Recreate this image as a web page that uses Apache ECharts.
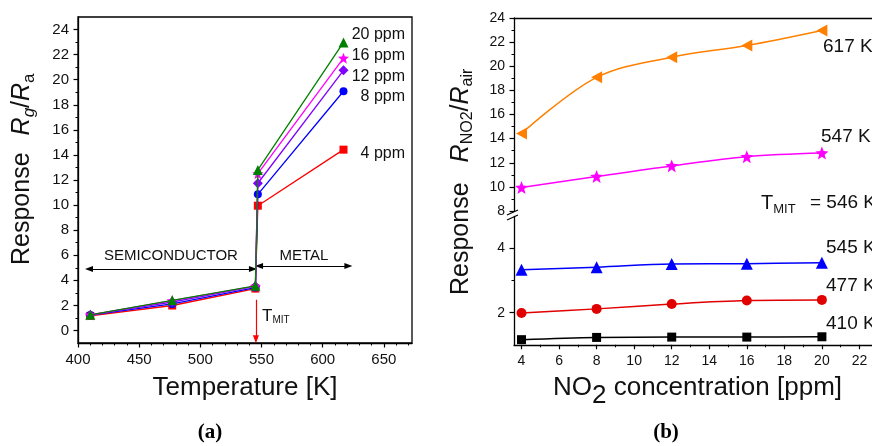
<!DOCTYPE html>
<html><head><meta charset="utf-8">
<script src="https://cdn.jsdelivr.net/npm/echarts@6/dist/echarts.min.js"></script>
<style>html,body{margin:0;padding:0;background:#fff}#c{width:872px;height:446px}</style>
</head><body><div id="c"></div>
<script>
// ---------- data ----------
const concentrations = [4, 8, 12, 16, 20];          // ppm (panel b x)
const temperatures   = [410, 477, 545, 547, 617];   // K   (panel a x)
const resp410 = [1.16, 1.23, 1.24, 1.24, 1.25];
const resp477 = [1.99, 2.12, 2.27, 2.38, 2.40];
const resp545 = [3.34, 3.42, 3.52, 3.53, 3.56];
const resp547 = [9.95, 10.86, 11.74, 12.50, 12.80];
const resp617 = [14.42, 19.08, 20.75, 21.72, 22.97];
const ppmLabels  = ['4 ppm', '8 ppm', '12 ppm', '16 ppm', '20 ppm'];
const tempLabels = ['410 K', '477 K', '545 K', '547 K', '617 K'];
const xTicksA = [400, 450, 500, 550, 600, 650];
const yTicksA = [0, 2, 4, 6, 8, 10, 12, 14, 16, 18, 20, 22, 24];
const xTicksB = [4, 6, 8, 10, 12, 14, 16, 18, 20, 22];
const yTicksBUpper = [8, 10, 12, 14, 16, 18, 20, 22, 24];
const yTicksBLower = [2, 4];

// ---------- helpers ----------
const FF = '"Liberation Sans", Arial, Helvetica, sans-serif';
const SERIF = '"Liberation Serif", "DejaVu Serif", serif';
const mctx = document.createElement('canvas').getContext('2d');
function tw(t, size, o) { o = o || {}; mctx.font = (o.it ? 'italic ' : '') + (o.b ? 'bold ' : '') + size + 'px ' + (o.fam || FF); return mctx.measureText(t).width; }
function minorOf(min, max, step, majors) {
  const out = [];
  for (let v = min; v <= max + 1e-9; v += step) { const r = Math.round(v * 1000) / 1000; if (!majors.includes(r)) out.push(r); }
  return out;
}
function txt(x, y, t, size, o) {
  o = o || {};
  return { type: 'text', x: x, y: y, rotation: o.rot || 0, scaleY: o.sy || 1, silent: true, z: 100,
    style: { text: t, fontSize: size, fontFamily: o.fam || FF, fontStyle: o.it ? 'italic' : 'normal',
      fontWeight: o.b ? 'bold' : 'normal', fill: o.color || '#111', textAlign: o.align || 'left', textVerticalAlign: 'middle' } };
}
function runH(pieces, x, y) {
  const els = [];
  pieces.forEach(p => { els.push(txt(x, y + (p.dy || 0), p.t, p.s, p)); x += tw(p.t, p.s, p) + (p.gap || 0); });
  return els;
}
function runV(pieces, x, y) {
  const els = [];
  pieces.forEach(p => { els.push(txt(x + (p.dy || 0), y, p.t, p.s, Object.assign({ rot: Math.PI / 2 }, p))); y -= tw(p.t, p.s, p) + (p.gap || 0); });
  return els;
}
function mainAxis(gridIndex, min, max, ticks, fs, position, margin) {
  return { type: 'value', gridIndex, min, max, position,
    axisLine: { show: true, onZero: false, lineStyle: { color: '#000', width: 1.3 } },
    axisTick: { show: ticks.length > 0, inside: false, length: 4.5, customValues: ticks, lineStyle: { color: '#000', width: 1.2 } },
    axisLabel: { show: ticks.length > 0, customValues: ticks, color: '#111', fontSize: fs, fontFamily: FF, margin: margin },
    splitLine: { show: false }, minorTick: { show: false }, minorSplitLine: { show: false } };
}
function minorAxis(gridIndex, min, max, ticks, position) {
  return { type: 'value', gridIndex, min, max, position,
    axisLine: { show: false, onZero: false },
    axisTick: { show: true, inside: false, length: 2.5, customValues: ticks, lineStyle: { color: '#000', width: 1 } },
    axisLabel: { show: false }, splitLine: { show: false } };
}
const STAR = 'path://M50,0L62.3,31.2L97.55,34.55L70,56.5L79.39,90.45L50,71L20.61,90.45L30,56.5L2.45,34.55L37.7,31.2Z';

// ---------- panel a series ----------
const byTemp = [resp410, resp477, resp545, resp547, resp617];
const colorsA = ['#ff0000', '#0000ff', '#8000ff', '#ff00ff', '#008000'];
const symA = ['rect', 'circle', 'diamond', STAR, 'triangle'];
const sizeA = [8, 8, 10, 11, 10];
const seriesA = ppmLabels.map((name, i) => ({
  type: 'line', name, xAxisIndex: 0, yAxisIndex: 0,
  data: temperatures.map((t, j) => [t, byTemp[j][i]]),
  symbol: symA[i], symbolSize: sizeA[i], showSymbol: true,
  lineStyle: { color: colorsA[i], width: 1.3 }, itemStyle: { color: colorsA[i] },
  z: 2 + i, animation: false, emphasis: { disabled: true }
}));
seriesA[0].markLine = {
  silent: true, animation: false, symbol: ['triangle', 'triangle'], symbolSize: [6, 8],
  label: { show: false }, emphasis: { disabled: true },
  lineStyle: { color: '#000', width: 1.2, type: 'solid' },
  data: [
    [{ coord: [409, 4.9] }, { coord: [543, 4.9] }],
    [{ coord: [548, 5.15] }, { coord: [621, 5.15] }],
    [{ coord: [545.4, 2.45], symbol: 'none', lineStyle: { color: '#ff0000', width: 1.2, type: 'solid' } }, { coord: [545.4, -0.7], symbol: 'triangle' }]
  ]
};

// ---------- panel b series ----------
const colorsB = ['#000000', '#e00000', '#0000ff', '#ff00ff', '#ff8000'];
const symB = ['rect', 'circle', 'triangle', STAR, 'triangle'];
const rotB = [0, 0, 0, 0, 90];
const sizeB = [9, 10, 12, 13, [12, 11]];
const seriesB = tempLabels.map((name, k) => {
  const upper = k >= 3;
  return {
    type: 'line', name, xAxisIndex: upper ? 2 : 3, yAxisIndex: upper ? 2 : 4,
    data: concentrations.map((c, i) => [c, byTemp[k][i]]),
    symbol: symB[k], symbolSize: sizeB[k], symbolRotate: rotB[k], smooth: 0.35,
    lineStyle: { color: colorsB[k], width: 1.5 }, itemStyle: { color: colorsB[k] },
    z: 3, animation: false, emphasis: { disabled: true }
  };
});

// ---------- text / decoration ----------
const graphics = [];
// panel a labels
const ppmY = [154, 97, 77, 56, 35];
ppmLabels.forEach((l, i) => graphics.push(txt(405, ppmY[i], l, 16, { align: 'right' })));
graphics.push(txt(171, 256, 'SEMICONDUCTOR', 15, { align: 'center' }));
graphics.push(txt(304, 256, 'METAL', 15, { align: 'center' }));
graphics.push(...runH([{ t: 'T', s: 17 }, { t: 'MIT', s: 10, dy: 4 }], 262, 316));
graphics.push(txt(245, 388, 'Temperature [K]', 26, { align: 'center' }));
graphics.push(...runV([{ t: 'Response', s: 25, gap: 17 }, { t: 'R', s: 25, it: true }, { t: 'g', s: 17, it: true, dy: 7 },
  { t: '/', s: 25 }, { t: 'R', s: 25, it: true }, { t: 'a', s: 17, dy: 7 }], 22, 265));
graphics.push(txt(210, 433, '(a)', 21, { align: 'center', b: true, fam: SERIF, color: '#000' }));
// panel b labels
graphics.push(txt(823, 47, '617 K', 19));
graphics.push(txt(821, 137, '547 K', 19));
graphics.push(...runH([{ t: 'T', s: 20 }, { t: 'MIT', s: 13, dy: 6 }], 761, 203));
graphics.push(txt(810, 203, '= 546 K', 19));
graphics.push(txt(826, 248, '545 K', 19));
graphics.push(txt(826, 286, '477 K', 19));
graphics.push(txt(826, 324, '410 K', 19));
graphics.push(...runH([{ t: 'NO', s: 26 }, { t: '2', s: 26, dy: 8, gap: 0 }, { t: ' concentration [ppm]', s: 26 }], 553, 388));
graphics.push(...runV([{ t: 'Response', s: 25, gap: 20 }, { t: 'R', s: 25, it: true }, { t: 'NO2', s: 16, dy: 7 },
  { t: '/', s: 25 }, { t: 'R', s: 25, it: true }, { t: 'air', s: 16, dy: 7 }], 461, 295));
graphics.push(txt(666, 433, '(b)', 21, { align: 'center', b: true, fam: SERIF, color: '#000' }));
// axis break marks
graphics.push({ type: 'line', silent: true, z: 100, shape: { x1: 507, y1: 215, x2: 518, y2: 210 }, style: { stroke: '#000', lineWidth: 1.2 } });
graphics.push({ type: 'line', silent: true, z: 100, shape: { x1: 507, y1: 220, x2: 518, y2: 215 }, style: { stroke: '#000', lineWidth: 1.2 } });

// ---------- option ----------
const option = {
  backgroundColor: '#fff',
  animation: false,
  grid: [
    { left: 78, top: 17, width: 334, height: 326, show: true, borderColor: '#000', borderWidth: 1.3, backgroundColor: 'transparent', outerBoundsMode: 'none', containLabel: false },
    { left: 514, top: 18, width: 383, height: 193, outerBoundsMode: 'none', containLabel: false },
    { left: 514, top: 216.5, width: 383, height: 128.3, outerBoundsMode: 'none', containLabel: false }
  ],
  xAxis: [
    mainAxis(0, 400, 673, xTicksA, 15, 'bottom', 9),
    minorAxis(0, 400, 673, minorOf(400, 673, 10, xTicksA), 'bottom'),
    mainAxis(1, 3.6, 24, [], 14, 'top', 8),
    mainAxis(2, 3.6, 24, xTicksB, 14, 'bottom', 9),
    minorAxis(2, 3.6, 24, minorOf(5, 23, 1, xTicksB), 'bottom')
  ],
  yAxis: [
    mainAxis(0, -1, 25, yTicksA, 15, 'left', 9),
    minorAxis(0, -1, 25, minorOf(1, 23, 1, yTicksA), 'left'),
    mainAxis(1, 8, 24, yTicksBUpper, 14, 'left', 9),
    minorAxis(1, 8, 24, minorOf(9, 23, 1, yTicksBUpper), 'left'),
    mainAxis(2, 1, 5, yTicksBLower, 14, 'left', 9),
    minorAxis(2, 1, 5, [3], 'left')
  ],
  series: seriesA.concat(seriesB),
  graphic: { elements: graphics }
};
const chart = echarts.init(document.getElementById('c'), null, { renderer: 'canvas' });
chart.setOption(option);
</script></body></html>
